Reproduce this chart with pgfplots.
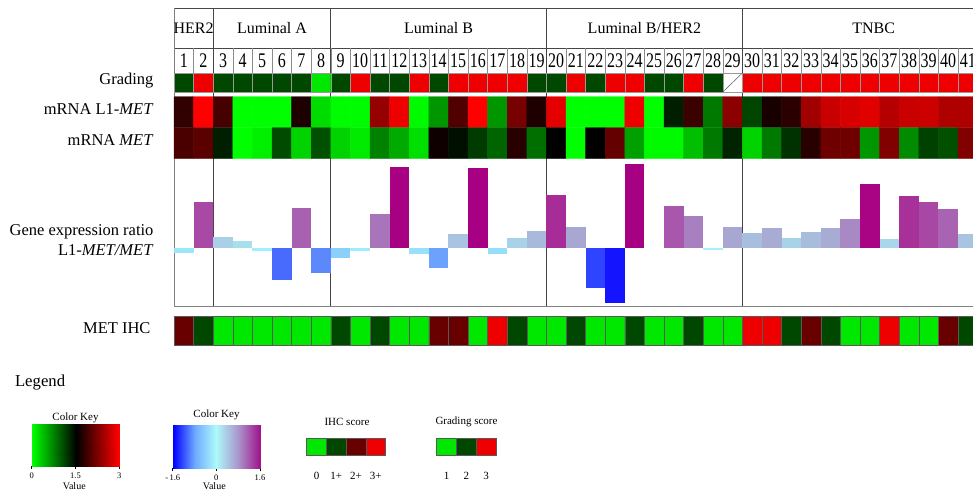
\documentclass[border=0pt]{standalone}
\usepackage{pgfplots}
\pgfplotsset{compat=1.18}
\usepackage{fontspec}
\setmainfont{Liberation Serif}
\definecolor{gA}{RGB}{0,232,0}
\definecolor{gB}{RGB}{0,72,0}
\definecolor{rA}{RGB}{105,0,0}
\definecolor{rB}{RGB}{238,0,0}
\definecolor{frm}{RGB}{70,70,70}
\pgfplotsset{
  colormap={bp}{rgb255(0)=(0,0,255); rgb255(1)=(110,170,255); rgb255(2)=(172,250,250); rgb255(3)=(170,150,205); rgb255(4)=(160,20,140)},
  colormap={gbr}{rgb255(0)=(0,255,0); rgb255(1)=(0,0,0); rgb255(2)=(255,0,0)},
  rowaxis/.style={scale only axis, width=823.2pt, xmin=0.5, xmax=42.5, anchor=north west, hide axis, clip=false},
  cell/.style={ybar, bar width=1, bar shift=0pt},
}
\newcommand{\rb}[5]{\addplot[cell, draw=none, fill={rgb,255:red,#3;green,#4;blue,#5}] coordinates {(#1,#2)};}
\newcommand{\lab}{\fontsize{16.5}{19}\selectfont}
\newcommand{\hdr}{\fontsize{16}{19}\selectfont}
\newcommand{\sml}{\fontsize{11}{13}\selectfont}
\begin{document}
\begin{tikzpicture}
\useasboundingbox (0pt,0pt) rectangle (973pt,-491pt);
\begin{scope}
\clip (0pt,0pt) rectangle (973pt,-491pt);

% ---------- frame, group names, sample numbers ----------
\begin{axis}[rowaxis, at={(174pt,-8pt)}, height=298pt, ymin=-306, ymax=-8]
\draw[frm, line width=0.9pt] (axis cs:0.5,-8) -- (axis cs:42.5,-8);
\draw[frm, line width=0.7pt] (axis cs:0.5,-48) -- (axis cs:42.5,-48);
\draw[frm, line width=0.7pt] (axis cs:0.5,-73) -- (axis cs:42.5,-73);
\draw[black!50, line width=0.8pt] (axis cs:0.5,-306) -- (axis cs:42.5,-306);
\draw[black!50, line width=0.8pt] (axis cs:0.5,-8) -- (axis cs:0.5,-306);
\pgfplotsinvokeforeach{1.5,2.5,...,41.5}{\draw[black!45, line width=0.5pt] (axis cs:#1,-48) -- (axis cs:#1,-73);}
\pgfplotsinvokeforeach{2.5,8.5,19.5,29.5}{\draw[frm, line width=0.8pt] (axis cs:#1,-8) -- (axis cs:#1,-306);}
\node[font=\hdr] at (axis cs:1.5,-28) {HER2};
\node[font=\hdr] at (axis cs:5.5,-28) {Luminal A};
\node[font=\hdr] at (axis cs:14,-28) {Luminal B};
\node[font=\hdr] at (axis cs:24.5,-28) {Luminal B/HER2};
\node[font=\hdr] at (axis cs:36.2,-28) {TNBC};
\pgfplotsinvokeforeach{1,...,41}{\node[font=\hdr] at (axis cs:#1,-60.5) {\scalebox{1}[1.3]{#1}};}
\end{axis}

% ---------- grading row ----------
\begin{axis}[rowaxis, at={(174pt,-73pt)}, height=19pt, ymin=0, ymax=1]
\addplot[cell, fill=gA, draw=black!40, line width=0.3pt] coordinates {(8,1)};
\addplot[cell, fill=gB, draw=black!40, line width=0.3pt] coordinates {(1,1) (3,1) (4,1) (5,1) (6,1) (7,1) (9,1) (11,1) (12,1) (14,1) (19,1) (20,1) (22,1) (25,1) (26,1) (28,1)};
\addplot[cell, fill=rB, draw=black!40, line width=0.3pt] coordinates {(2,1) (10,1) (13,1) (15,1) (16,1) (17,1) (18,1) (21,1) (23,1) (24,1) (27,1) (30,1) (31,1) (32,1) (33,1) (34,1) (35,1) (36,1) (37,1) (38,1) (39,1) (40,1) (41,1) (42,1)};
\addplot[cell, fill=white, draw=black!40, line width=0.3pt] coordinates {(29,1)};
\draw[black!65, line width=0.5pt] (axis cs:28.5,0) -- (axis cs:29.5,1);
\end{axis}

% ---------- mRNA heat map ----------
\begin{axis}[rowaxis, at={(174pt,-96.7pt)}, height=61.6pt, ymin=0.5, ymax=2.5, y dir=reverse,
  colormap name=gbr, point meta min=0, point meta max=3]
\addplot[matrix plot*, mesh/cols=41, point meta=explicit] table[meta=c] {
x y c
1 1 1.79
2 1 3.00
3 1 1.91
4 1 0.00
5 1 0.00
6 1 0.00
7 1 1.68
8 1 0.21
9 1 0.02
10 1 0.02
11 1 2.38
12 1 2.91
13 1 0.03
14 1 0.62
15 1 1.97
16 1 3.00
17 1 0.62
18 1 2.20
19 1 1.68
20 1 2.85
21 1 0.00
22 1 0.00
23 1 0.00
24 1 2.90
25 1 0.00
26 1 1.32
27 1 1.85
28 1 0.79
29 1 2.32
30 1 1.09
31 1 1.65
32 1 1.76
33 1 2.44
34 1 2.68
35 1 2.76
36 1 2.82
37 1 2.56
38 1 2.68
39 1 2.71
40 1 2.53
41 1 2.53
1 2 1.94
2 2 2.03
3 2 1.32
4 2 0.00
5 2 0.09
6 2 1.06
7 2 0.26
8 2 1.03
9 2 0.26
10 2 0.12
11 2 0.74
12 2 0.50
13 2 0.18
14 2 1.59
15 2 1.41
16 2 1.15
17 2 0.91
18 2 1.74
19 2 0.85
20 2 1.50
21 2 0.00
22 2 1.50
23 2 2.09
24 2 0.56
25 2 0.03
26 2 0.03
27 2 0.38
28 2 0.79
29 2 1.29
30 2 0.26
31 2 0.79
32 2 1.21
33 2 1.74
34 2 2.15
35 2 2.15
36 2 0.62
37 2 2.26
38 2 0.68
39 2 1.12
40 2 1.03
41 2 2.26
};
\end{axis}

% ---------- gene expression ratio bars ----------
\begin{axis}[rowaxis, at={(174pt,-158.3pt)}, height=147.7pt, ymin=-1.154, ymax=1.8]
\rb{1}{-0.09}{154}{230}{250}
\rb{2}{0.92}{168}{73}{165}
\rb{3}{0.22}{168}{208}{230}
\rb{4}{0.14}{168}{223}{237}
\rb{5}{-0.05}{160}{239}{250}
\rb{6}{-0.63}{72}{107}{253}
\rb{7}{0.80}{168}{96}{176}
\rb{8}{-0.50}{92}{136}{252}
\rb{9}{-0.19}{139}{207}{251}
\rb{10}{-0.06}{159}{236}{250}
\rb{11}{0.69}{168}{117}{186}
\rb{12}{1.63}{168}{0}{130}
\rb{13}{-0.11}{151}{225}{250}
\rb{14}{-0.39}{108}{161}{252}
\rb{15}{0.28}{168}{196}{224}
\rb{16}{1.61}{168}{0}{130}
\rb{17}{-0.12}{150}{223}{250}
\rb{18}{0.21}{168}{210}{231}
\rb{19}{0.34}{168}{185}{219}
\rb{20}{1.07}{168}{44}{151}
\rb{21}{0.43}{168}{167}{210}
\rb{22}{-0.80}{46}{68}{254}
\rb{23}{-1.09}{20}{20}{255}
\rb{24}{1.69}{168}{0}{130}
\rb{26}{0.85}{168}{87}{172}
\rb{27}{0.64}{168}{127}{191}
\rb{28}{-0.03}{163}{243}{250}
\rb{29}{0.43}{168}{167}{210}
\rb{30}{0.31}{168}{190}{221}
\rb{31}{0.41}{168}{171}{212}
\rb{32}{0.21}{168}{210}{231}
\rb{33}{0.32}{168}{188}{220}
\rb{34}{0.41}{168}{171}{212}
\rb{35}{0.59}{168}{137}{196}
\rb{36}{1.28}{168}{4}{132}
\rb{37}{0.18}{168}{215}{233}
\rb{38}{1.05}{168}{48}{153}
\rb{39}{0.93}{168}{71}{164}
\rb{40}{0.78}{168}{100}{178}
\rb{41}{0.28}{168}{196}{224}
\end{axis}

% ---------- MET IHC row ----------
\begin{axis}[rowaxis, at={(174pt,-316.7pt)}, height=28.3pt, ymin=0, ymax=1]
\addplot[cell, fill=gA, draw=black!65, line width=0.6pt] coordinates {(3,1) (4,1) (5,1) (6,1) (7,1) (8,1) (10,1) (12,1) (13,1) (16,1) (19,1) (20,1) (22,1) (23,1) (25,1) (26,1) (28,1) (29,1) (35,1) (36,1) (38,1) (39,1)};
\addplot[cell, fill=gB, draw=black!65, line width=0.6pt] coordinates {(2,1) (9,1) (11,1) (18,1) (21,1) (24,1) (27,1) (32,1) (34,1) (41,1)};
\addplot[cell, fill=rA, draw=black!65, line width=0.6pt] coordinates {(1,1) (14,1) (15,1) (33,1) (40,1)};
\addplot[cell, fill=rB, draw=black!65, line width=0.6pt] coordinates {(17,1) (30,1) (31,1) (37,1)};
\end{axis}

% ---------- row labels ----------
\node[anchor=mid east, font=\lab] at (157pt,-82pt) {Grading};
\node[anchor=mid east, font=\lab] at (157pt,-112pt) {mRNA L1-\textit{MET}};
\node[anchor=mid east, font=\lab] at (157pt,-143pt) {mRNA \textit{MET}};
\node[anchor=mid east, font=\lab] at (157pt,-233pt) {Gene expression ratio};
\node[anchor=mid east, font=\lab] at (157pt,-253pt) {L1-\textit{MET/MET}};
\node[anchor=mid east, font=\lab] at (154pt,-331pt) {MET IHC};

% ---------- legend ----------
\node[anchor=mid west, font=\fontsize{16.7}{19}\selectfont] at (11.5pt,-384pt) {Legend};

\begin{axis}[at={(31.7pt,-424pt)}, anchor=north west, scale only axis, width=87.6pt, height=42pt,
  xmin=0, xmax=3, ymin=0, ymax=1, axis y line=none, axis x line*=bottom,
  x axis line style={-, black, line width=0.5pt},
  xtick={0,1.5,3}, xticklabels={0,1.5,3}, tick align=outside, major tick length=3pt,
  tick style={black, line width=0.5pt},
  xticklabel style={font=\fontsize{8.5}{10}\selectfont},
  colormap name=gbr, point meta min=0, point meta max=3]
\addplot[surf, shader=interp, mesh/rows=2, point meta=x] coordinates {(0,0) (1.5,0) (3,0) (0,1) (1.5,1) (3,1)};
\end{axis}
\node[font=\sml] at (75.5pt,-418pt) {Color Key};
\node[font=\fontsize{10}{12}\selectfont] at (74.3pt,-486pt) {Value};

\begin{axis}[at={(172.7pt,-425pt)}, anchor=north west, scale only axis, width=87.3pt, height=43pt,
  xmin=-1.6, xmax=1.6, ymin=0, ymax=1, axis y line=none, axis x line*=bottom,
  x axis line style={-, black, line width=0.5pt},
  xtick={-1.6,0,1.6}, xticklabels={-\,1.6,0,1.6}, tick align=outside, major tick length=3pt,
  tick style={black, line width=0.5pt},
  xticklabel style={font=\fontsize{8.5}{10}\selectfont},
  colormap name=bp, point meta min=-1.6, point meta max=1.6]
\addplot[surf, shader=interp, mesh/rows=2, point meta=x] coordinates {(-1.6,0) (-0.8,0) (0,0) (0.8,0) (1.6,0) (-1.6,1) (-0.8,1) (0,1) (0.8,1) (1.6,1)};
\end{axis}
\node[font=\sml] at (216.5pt,-415pt) {Color Key};
\node[font=\fontsize{10}{12}\selectfont] at (214.3pt,-486pt) {Value};

\begin{axis}[at={(306.7pt,-438pt)}, anchor=north west, scale only axis, width=79pt, height=17.7pt,
  xmin=-0.5, xmax=3.5, ymin=0, ymax=1, hide axis, clip=false]
\addplot[cell, fill=gA, draw=black!65, line width=0.6pt] coordinates {(0,1)};
\addplot[cell, fill=gB, draw=black!65, line width=0.6pt] coordinates {(1,1)};
\addplot[cell, fill=rA, draw=black!65, line width=0.6pt] coordinates {(2,1)};
\addplot[cell, fill=rB, draw=black!65, line width=0.6pt] coordinates {(3,1)};
\node[font=\sml] at (axis cs:0,-1.15) {0};
\node[font=\sml] at (axis cs:1,-1.15) {1+};
\node[font=\sml] at (axis cs:2,-1.15) {2+};
\node[font=\sml] at (axis cs:3,-1.15) {3+};
\end{axis}
\node[font=\sml] at (347pt,-422pt) {IHC score};

\begin{axis}[at={(436.7pt,-438pt)}, anchor=north west, scale only axis, width=59.3pt, height=17.7pt,
  xmin=0.5, xmax=3.5, ymin=0, ymax=1, hide axis, clip=false]
\addplot[cell, fill=gA, draw=black!65, line width=0.6pt] coordinates {(1,1)};
\addplot[cell, fill=gB, draw=black!65, line width=0.6pt] coordinates {(2,1)};
\addplot[cell, fill=rB, draw=black!65, line width=0.6pt] coordinates {(3,1)};
\node[font=\sml] at (axis cs:1,-1.15) {1};
\node[font=\sml] at (axis cs:2,-1.15) {2};
\node[font=\sml] at (axis cs:3,-1.15) {3};
\end{axis}
\node[font=\sml] at (466.5pt,-422pt) {Grading score};

\end{scope}
\end{tikzpicture}
\end{document}
